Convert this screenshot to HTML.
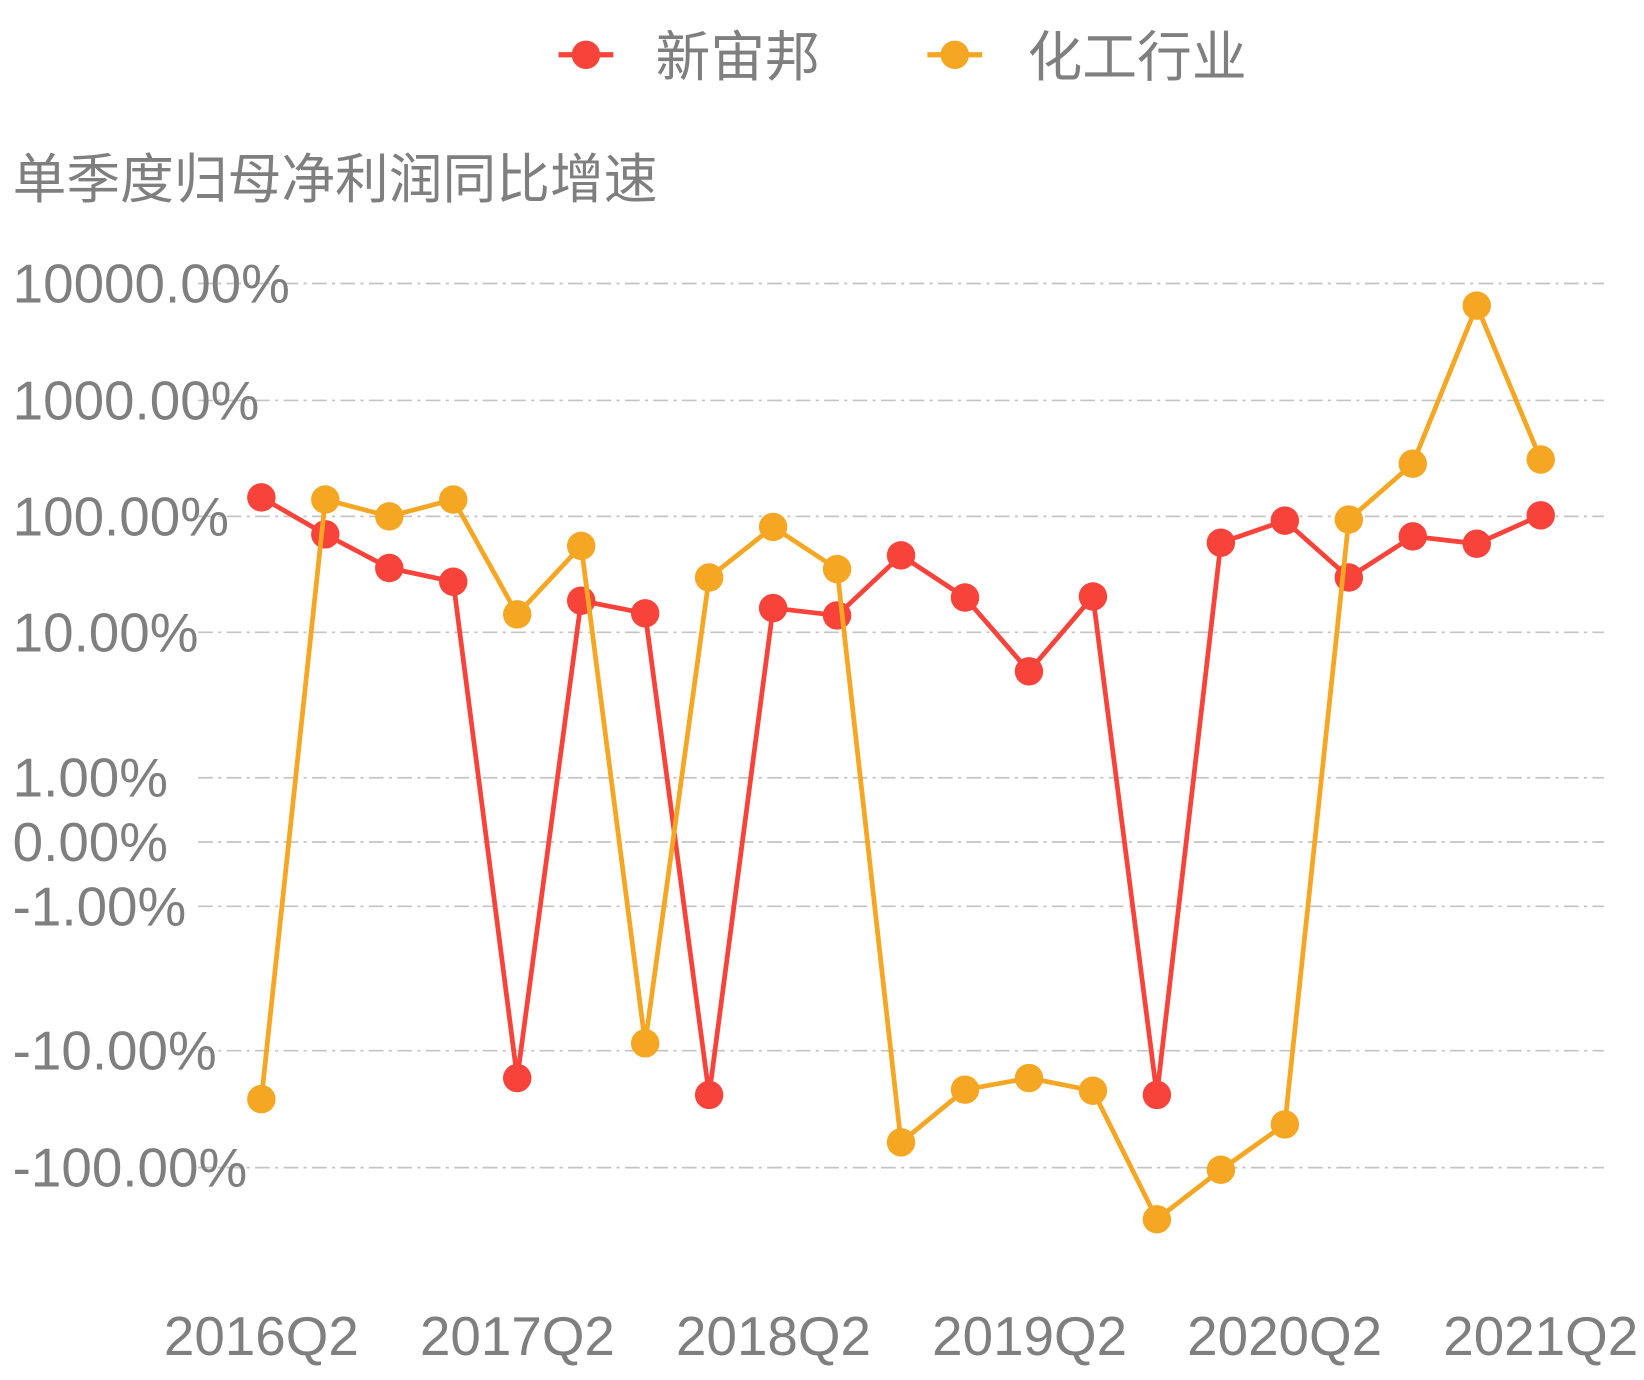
<!DOCTYPE html>
<html><head><meta charset="utf-8"><style>html,body{margin:0;padding:0;background:#fff}svg{display:block}</style></head>
<body>
<svg width="1644" height="1380" viewBox="0 0 1560 1309.5" preserveAspectRatio="none" xmlns="http://www.w3.org/2000/svg" font-family="'Liberation Sans','Noto Sans CJK SC',sans-serif">
<g fill="#7f7f7f" font-size="52">
<text x="622" y="72">新宙邦</text>
<text x="975" y="72">化工行业</text>
<text x="12" y="188" font-size="51">单季度归母净利润同比增速</text>
</g>
<line x1="530" y1="52" x2="582" y2="52" stroke="#f8433a" stroke-width="5"/>
<circle cx="556" cy="52" r="13.5" fill="#f8433a"/>
<line x1="880" y1="52" x2="932" y2="52" stroke="#f5a623" stroke-width="5"/>
<circle cx="906" cy="52" r="13.5" fill="#f5a623"/>
<g stroke="#c4c4c4" stroke-width="1.6" stroke-dasharray="14,5,3,5">
<line x1="188" y1="269" x2="1522" y2="269"/>
<line x1="188" y1="380" x2="1522" y2="380"/>
<line x1="188" y1="490" x2="1522" y2="490"/>
<line x1="188" y1="600" x2="1522" y2="600"/>
<line x1="188" y1="738" x2="1522" y2="738"/>
<line x1="188" y1="799" x2="1522" y2="799"/>
<line x1="188" y1="860" x2="1522" y2="860"/>
<line x1="188" y1="997" x2="1522" y2="997"/>
<line x1="188" y1="1108" x2="1522" y2="1108"/>
</g>
<g fill="#7f7f7f" font-size="52">
<text x="12" y="287">10000.00%</text>
<text x="12" y="398">1000.00%</text>
<text x="12" y="508">100.00%</text>
<text x="12" y="618">10.00%</text>
<text x="12" y="756">1.00%</text>
<text x="12" y="817">0.00%</text>
<text x="12" y="878">-1.00%</text>
<text x="12" y="1015">-10.00%</text>
<text x="12" y="1126">-100.00%</text>
</g>
<g fill="#7f7f7f" font-size="52" text-anchor="middle">
<text x="248" y="1286">2016Q2</text>
<text x="491" y="1286">2017Q2</text>
<text x="734" y="1286">2018Q2</text>
<text x="977" y="1286">2019Q2</text>
<text x="1219" y="1286">2020Q2</text>
<text x="1462" y="1286">2021Q2</text>
</g>
<g fill="#f8433a">
<polyline fill="none" stroke="#f8433a" stroke-width="4.5" stroke-linejoin="round" points="248,472 308.7,507 369.4,539 430.1,552 490.8,1023 551.5,570 612.2,582 672.9,1039 733.6,577 794.3,584 855,527 915.7,567 976.4,637 1037.1,566 1097.8,1039 1158.5,515 1219.2,494 1279.9,548 1340.6,509 1401.3,516 1462,489"/>
<circle cx="248" cy="472" r="13.5"/><circle cx="308.7" cy="507" r="13.5"/><circle cx="369.4" cy="539" r="13.5"/><circle cx="430.1" cy="552" r="13.5"/><circle cx="490.8" cy="1023" r="13.5"/><circle cx="551.5" cy="570" r="13.5"/><circle cx="612.2" cy="582" r="13.5"/><circle cx="672.9" cy="1039" r="13.5"/><circle cx="733.6" cy="577" r="13.5"/><circle cx="794.3" cy="584" r="13.5"/><circle cx="855" cy="527" r="13.5"/><circle cx="915.7" cy="567" r="13.5"/><circle cx="976.4" cy="637" r="13.5"/><circle cx="1037.1" cy="566" r="13.5"/><circle cx="1097.8" cy="1039" r="13.5"/><circle cx="1158.5" cy="515" r="13.5"/><circle cx="1219.2" cy="494" r="13.5"/><circle cx="1279.9" cy="548" r="13.5"/><circle cx="1340.6" cy="509" r="13.5"/><circle cx="1401.3" cy="516" r="13.5"/><circle cx="1462" cy="489" r="13.5"/>
</g>
<g fill="#f5a623">
<polyline fill="none" stroke="#f5a623" stroke-width="4.5" stroke-linejoin="round" points="248,1043 308.7,474 369.4,490 430.1,474 490.8,583 551.5,518 612.2,990 672.9,548 733.6,500 794.3,540 855,1084 915.7,1034 976.4,1023 1037.1,1035 1097.8,1157 1158.5,1110 1219.2,1067 1279.9,493 1340.6,440 1401.3,290 1462,436"/>
<circle cx="248" cy="1043" r="13.5"/><circle cx="308.7" cy="474" r="13.5"/><circle cx="369.4" cy="490" r="13.5"/><circle cx="430.1" cy="474" r="13.5"/><circle cx="490.8" cy="583" r="13.5"/><circle cx="551.5" cy="518" r="13.5"/><circle cx="612.2" cy="990" r="13.5"/><circle cx="672.9" cy="548" r="13.5"/><circle cx="733.6" cy="500" r="13.5"/><circle cx="794.3" cy="540" r="13.5"/><circle cx="855" cy="1084" r="13.5"/><circle cx="915.7" cy="1034" r="13.5"/><circle cx="976.4" cy="1023" r="13.5"/><circle cx="1037.1" cy="1035" r="13.5"/><circle cx="1097.8" cy="1157" r="13.5"/><circle cx="1158.5" cy="1110" r="13.5"/><circle cx="1219.2" cy="1067" r="13.5"/><circle cx="1279.9" cy="493" r="13.5"/><circle cx="1340.6" cy="440" r="13.5"/><circle cx="1401.3" cy="290" r="13.5"/><circle cx="1462" cy="436" r="13.5"/>
</g>
</svg>
</body></html>
